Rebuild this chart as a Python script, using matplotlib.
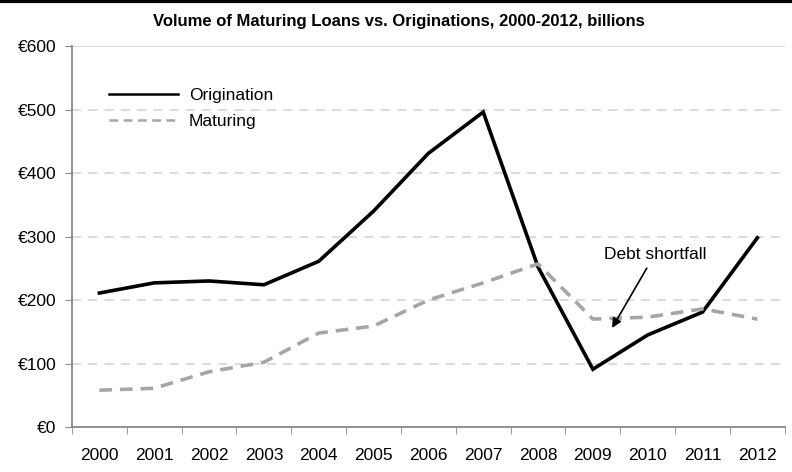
import numpy as np
import matplotlib.pyplot as plt
from matplotlib import font_manager

names = {f.name for f in font_manager.fontManager.ttflist}
fam = ['Liberation Sans Narrow', 'Liberation Sans', 'DejaVu Sans']
plt.rcParams['font.family'] = [f for f in fam if f in names] + ['DejaVu Sans']

years = ['2000', '2001', '2002', '2003', '2004', '2005', '2006',
         '2007', '2008', '2009', '2010', '2011', '2012']
origination = [211, 227, 230, 224, 261, 340, 431, 496, 252, 91, 145, 181, 298]
maturing = [58, 61, 87, 102, 148, 159, 200, 227, 257, 170, 173, 186, 170]
yticks = [0, 100, 200, 300, 400, 500, 600]

x = np.arange(len(years))
grey = '#888888'

fig = plt.figure(figsize=(7.92, 4.72), dpi=100)
ax = fig.add_axes([0.0909, 0.0953, 0.9, 0.8072])

for v in yticks[1:]:
    ax.axhline(v, color='#d9d9d9', lw=1.3, ls=(0, (5, 4)) if v < 600 else '-', zorder=0)

ax.plot(x, origination, color='black', lw=2.6, label='Origination', solid_joinstyle='miter')
ax.plot(x, maturing, color='#a6a6a6', lw=2.6, ls=(0, (3.5, 2.2)), label='Maturing')

ax.set_xlim(-0.5, len(years) - 0.5)
ax.set_ylim(0, 600)
ax.set_yticks(yticks)
ax.set_yticklabels(['€%d' % v for v in yticks], fontsize=12.5)
ax.set_xticks(x)
ax.set_xticklabels(years, fontsize=12.5)
ax.set_xticks(np.arange(len(years) + 1) - 0.5, minor=True)
ax.tick_params(axis='x', which='major', length=0, pad=15)
ax.tick_params(axis='x', which='minor', length=5, color=grey, direction='out')
ax.tick_params(axis='y', length=5, color=grey, direction='out', pad=6)

for s in ['top', 'right']:
    ax.spines[s].set_visible(False)
for s in ['left', 'bottom']:
    ax.spines[s].set_color(grey)
    ax.spines[s].set_linewidth(1.3)

leg = ax.legend(loc='upper left', bbox_to_anchor=(0.03, 0.93), frameon=False,
                fontsize=12.5, handlelength=4.0, handletextpad=0.6, labelspacing=0.6)
leg.get_lines()[0].set_linewidth(1.8)
leg.get_lines()[1].set_linewidth(1.8)

ax.annotate('Debt shortfall', xy=(9.35, 156), xytext=(10.13, 272),
            ha='center', va='center', fontsize=12.5,
            arrowprops=dict(arrowstyle='-|>', color='black', lw=1.2,
                            shrinkA=3, shrinkB=0, mutation_scale=14))

fig.text(0.503, 0.955, 'Volume of Maturing Loans vs. Originations, 2000-2012, billions',
         ha='center', va='center', fontsize=12, fontweight='bold')
fig.add_artist(plt.Line2D([0, 1], [0.997, 0.997], color='black', lw=3,
                          transform=fig.transFigure))

fig.savefig('out.png', dpi=100)
